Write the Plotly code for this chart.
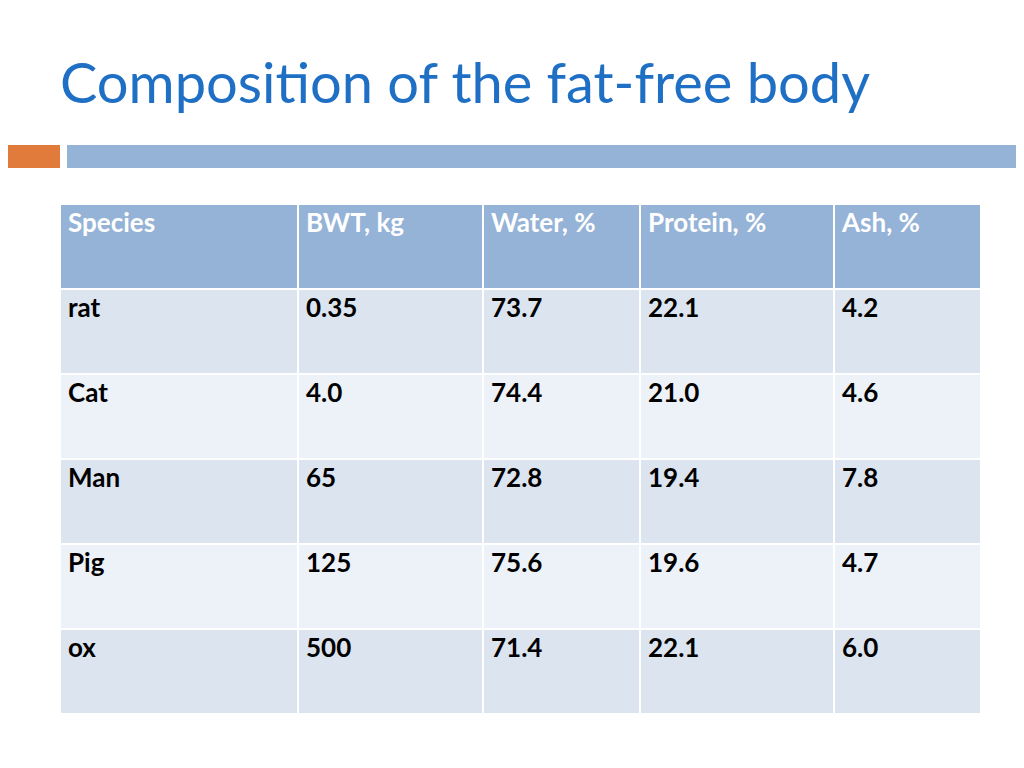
import plotly.graph_objects as go

header = ["Species", "BWT, kg", "Water, %", "Protein, %", "Ash, %"]
species = ["rat", "Cat", "Man", "Pig", "ox"]
bwt = ["0.35", "4.0", "65", "125", "500"]
water = ["73.7", "74.4", "72.8", "75.6", "71.4"]
protein = ["22.1", "21.0", "19.4", "19.6", "22.1"]
ash = ["4.2", "4.6", "7.8", "4.7", "6.0"]

W, H = 1024, 768
OFF = 8  # page body margin shifts the figure by this many pixels
row_fill = ["#dbe4ef" if i % 2 == 0 else "#edf2f8" for i in range(len(species))]

fig = go.Figure(
    go.Table(
        domain=dict(x=[(60 - OFF) / W, (981 - OFF) / W], y=[0, 1 - (204 - OFF) / H]),
        columnwidth=[238, 185, 157, 194, 147],
        header=dict(
            values=header,
            fill_color="#95b3d7",
            line=dict(color="white", width=2),
            align="left",
            height=85,
            font=dict(family="Lato", size=26, color="white", weight="bold"),
        ),
        cells=dict(
            values=[species, bwt, water, protein, ash],
            fill_color=[row_fill] * 5,
            line=dict(color="white", width=2),
            align="left",
            height=85,
            font=dict(family="Lato", size=26, color="black", weight="bold"),
        ),
    )
)

# decorative bars under the title
fig.add_shape(type="rect", xref="paper", yref="paper", x0=0, x1=(60 - OFF) / W,
              y0=1 - (168 - OFF) / H, y1=1 - (145 - OFF) / H, fillcolor="#e07b3c", line_width=0)
fig.add_shape(type="rect", xref="paper", yref="paper", x0=(67 - OFF) / W, x1=1,
              y0=1 - (168 - OFF) / H, y1=1 - (145 - OFF) / H, fillcolor="#95b3d7", line_width=0)

fig.add_annotation(text="Composition of the fat-free body", xref="paper", yref="paper",
                   x=(58 - OFF) / W, y=1 - (82 - OFF) / H, xanchor="left", yanchor="middle",
                   showarrow=False, font=dict(family="Lato", size=56, color="#1f6fc5"))

fig.update_layout(width=W, height=H, margin=dict(l=0, r=0, t=0, b=0),
                  paper_bgcolor="white", plot_bgcolor="white")
fig.write_html("out.html")
